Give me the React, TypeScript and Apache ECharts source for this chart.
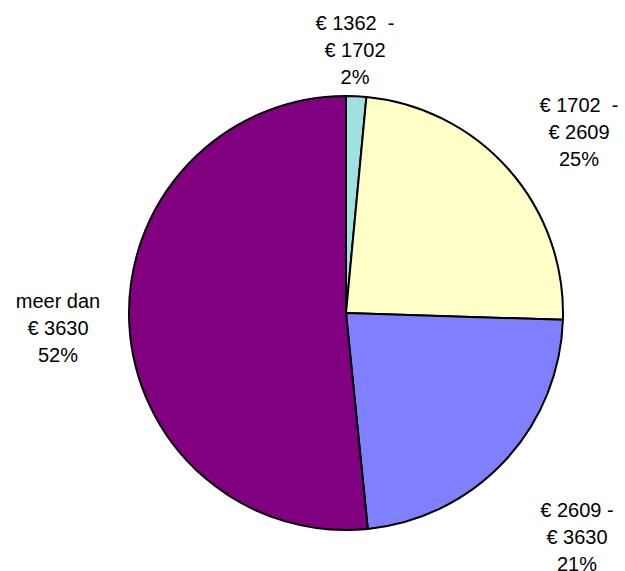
import React, { useEffect, useRef } from "react";
import * as echarts from "echarts";

const categories = [
  "€ 1362  -\n€ 1702",
  "€ 1702  -\n€ 2609",
  "€ 2609 -\n€ 3630",
  "meer dan\n€ 3630",
];
const values = [1.5, 24.0, 22.9, 51.6];
const percentLabels = ["2%", "25%", "21%", "52%"];
const colors = ["#A0E0E0", "#FFFFC8", "#8080FF", "#800080"];
const labelCenters: [number, number][] = [
  [355, 50],
  [579, 132],
  [577, 537],
  [58, 328],
];

export default function App() {
  const ref = useRef<HTMLDivElement>(null);
  useEffect(() => {
    if (!ref.current) return;
    const chart = echarts.init(ref.current, undefined, { renderer: "svg" });
    chart.setOption({
      animation: false,
      backgroundColor: "#ffffff",
      series: [
        {
          type: "pie",
          center: [346, 313],
          radius: 217,
          startAngle: 90,
          clockwise: true,
          avoidLabelOverlap: false,
          itemStyle: { borderColor: "#000000", borderWidth: 2 },
          emphasis: { disabled: true },
          label: {
            show: true,
            position: "outside",
            color: "#000000",
            fontSize: 20,
            lineHeight: 27,
            fontFamily: "'Liberation Sans', Arial, sans-serif",
            align: "center",
            formatter: (p: any) => `${p.name}\n${percentLabels[p.dataIndex]}`,
          },
          labelLine: { show: false },
          labelLayout: (p: any) => {
            const c = labelCenters[p.dataIndex];
            return { x: c[0], y: c[1], align: "center", verticalAlign: "middle" };
          },
          data: categories.map((name, i) => ({
            name,
            value: values[i],
            itemStyle: { color: colors[i] },
          })),
        },
      ],
    });
    return () => chart.dispose();
  }, []);
  return (
    <div
      ref={ref}
      style={{ position: "fixed", left: 0, top: 0, width: 625, height: 571 }}
    />
  );
}
